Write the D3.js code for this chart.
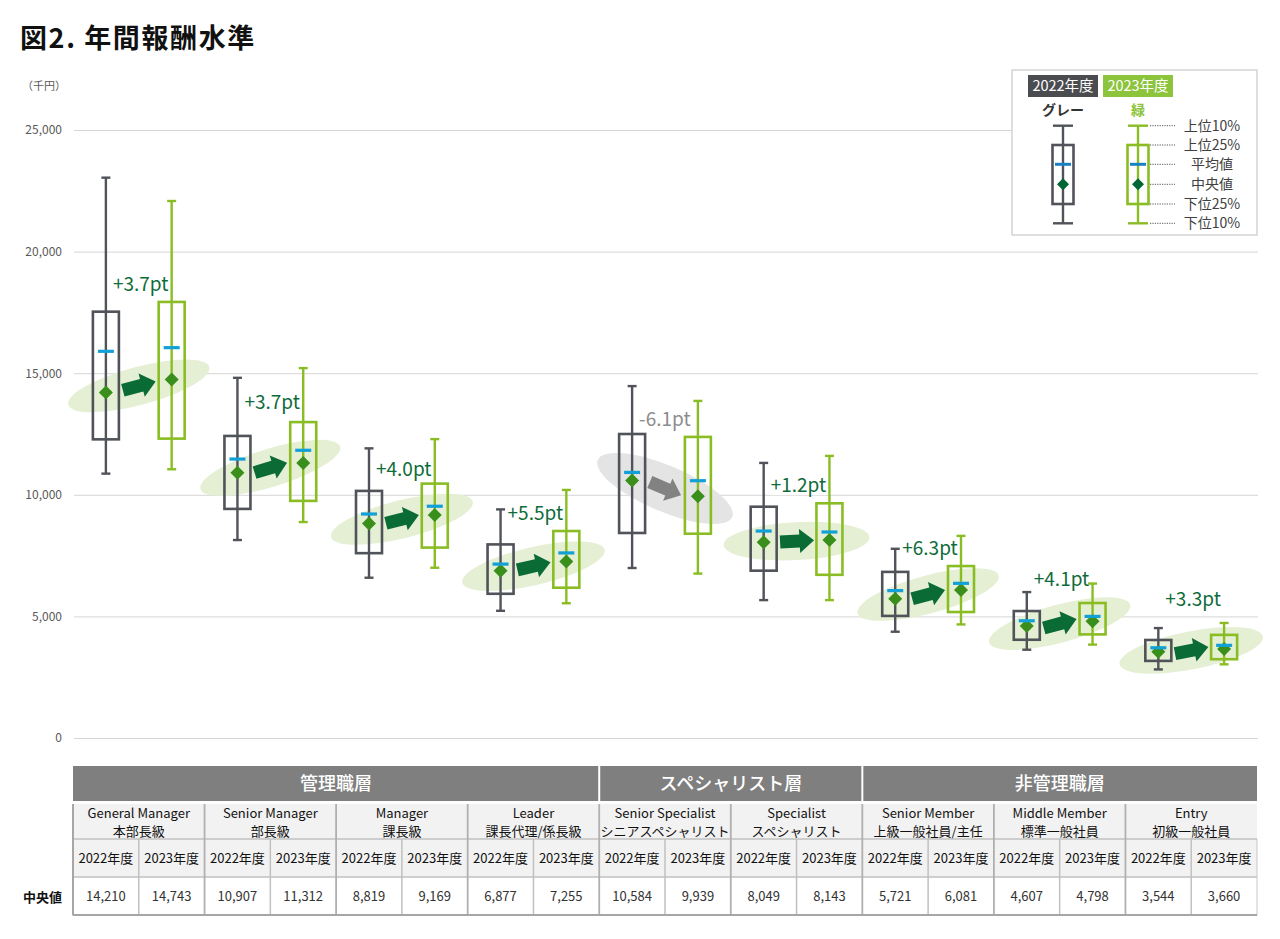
<!DOCTYPE html>
<html><head><meta charset="utf-8">
<script src="https://cdn.jsdelivr.net/npm/d3@7"></script>
<style>
html,body{margin:0;padding:0;background:#fff;}
svg{display:block;font-family:"Noto Sans CJK JP","Noto Sans",sans-serif;}
</style></head>
<body>
<svg id="chart" width="1280" height="939"></svg>
<script>
// ---------- data ----------
const categoriesEn = ["General Manager","Senior Manager","Manager","Leader","Senior Specialist","Specialist","Senior Member","Middle Member","Entry"];
const categoriesJa = ["本部長級","部長級","課長級","課長代理/係長級","シニアスペシャリスト","スペシャリスト","上級一般社員/主任","標準一般社員","初級一般社員"];
const groupNames = ["管理職層","スペシャリスト層","非管理職層"];
const groupSizes = [4,2,3];
const years = ["2022年度","2023年度"];
// 2022
const p10_2022 = [10870, 8140, 6590, 5230, 6990, 5670, 4370, 3630, 2820];
const p25_2022 = [12280, 9420, 7600, 5930, 8430, 6880, 5020, 4040, 3170];
const median_2022 = [14210, 10907, 8819, 6877, 10584, 8049, 5721, 4607, 3544];
const mean_2022 = [15900, 11470, 9210, 7150, 10920, 8510, 6060, 4820, 3710];
const p75_2022 = [17530, 12420, 10160, 7960, 12500, 9510, 6830, 5220, 4030];
const p90_2022 = [23040, 14810, 11910, 9400, 14470, 11310, 7780, 6000, 4520];
// 2023
const p10_2023 = [11050, 8880, 7000, 5540, 6760, 5670, 4670, 3840, 3030];
const p25_2023 = [12310, 9750, 7830, 6180, 8400, 6710, 5180, 4260, 3240];
const median_2023 = [14743, 11312, 9169, 7255, 9939, 8143, 6081, 4798, 3660];
const mean_2023 = [16050, 11830, 9530, 7610, 10580, 8470, 6360, 5000, 3810];
const p75_2023 = [17930, 12990, 10460, 8510, 12380, 9650, 7070, 5550, 4240];
const p90_2023 = [22080, 15210, 12290, 10200, 13860, 11600, 8310, 6350, 4730];
const changeLabels = ["+3.7pt","+3.7pt","+4.0pt","+5.5pt","-6.1pt","+1.2pt","+6.3pt","+4.1pt","+3.3pt"];
const yTicks = [0,5000,10000,15000,20000,25000];
const legendLabels = ["上位10%","上位25%","平均値","中央値","下位25%","下位10%"];

// ---------- decoration layout (not data) ----------
const pairTilt = [-15,-17,-14,-13,23,-3,-15,-15,-11];
const labelDy = [-18,-20,-14,-18,-18,-18,-18,-24,-36];

// ---------- styles ----------
const C = {
  gray:"#505359", green:"#8abd24", mean:"#12a0d7", median:"#3a8f1c",
  arrow:"#0b6b35", arrowGray:"#828282", oval:"#e4efd3", ovalGray:"#e4e4e4",
  label:"#0e6b3a", labelGray:"#8c8c8c", grid:"#d6d6d6", axisText:"#595959"
};

const svg = d3.select("#chart");
const y = d3.scaleLinear().domain([0,25000]).range([738,130]);
const x = d3.scaleBand().domain(d3.range(18)).range([73,1257]);
const bw = x.bandwidth();
const cx = (i,j) => x(i*2+j) + bw/2;

// title
svg.append("text").attr("x",20).attr("y",48).attr("font-size",27).attr("font-weight","bold")
  .attr("letter-spacing",1.6).attr("fill","#111").text("図2. 年間報酬水準");
svg.append("text").attr("x",22).attr("y",90).attr("font-size",11).attr("fill",C.axisText).text("（千円）");

// axis + grid
const yAxis = d3.axisLeft(y).tickValues(yTicks).tickFormat(d3.format(",")).tickSize(-(1258-74)).tickPadding(12);
const ga = svg.append("g").attr("transform","translate(74,0)").call(yAxis);
ga.select(".domain").remove();
ga.selectAll(".tick line").attr("stroke",C.grid).attr("stroke-width",1);
ga.selectAll(".tick text").attr("fill",C.axisText).attr("font-size",12).attr("font-family","'Noto Sans CJK JP',sans-serif");

const years2 = [
  {p10:p10_2022,p25:p25_2022,med:median_2022,mean:mean_2022,p75:p75_2022,p90:p90_2022,color:C.gray},
  {p10:p10_2023,p25:p25_2023,med:median_2023,mean:mean_2023,p75:p75_2023,p90:p90_2023,color:C.green}
];

// ovals
const gOval = svg.append("g");
categoriesEn.forEach((c,i)=>{
  const x1=cx(i,0), y1=y(median_2022[i]), x2=cx(i,1), y2=y(median_2023[i]);
  const neg = median_2023[i] < median_2022[i];
  gOval.append("ellipse").attr("cx",0).attr("cy",0).attr("rx",73).attr("ry",neg?23:19)
    .attr("fill",neg?C.ovalGray:C.oval)
    .attr("transform",`translate(${(x1+x2)/2},${(y1+y2)/2}) rotate(${pairTilt[i]})`);
});

// change labels
const gLab = svg.append("g");
categoriesEn.forEach((c,i)=>{
  const neg = median_2023[i] < median_2022[i];
  const tx = cx(i,0)+7, ty = y(p75_2023[i]) + labelDy[i];
  const t = gLab.append("text").attr("x",tx).attr("y",ty).attr("dy","0.36em")
    .attr("font-size",19).attr("fill",neg?C.labelGray:C.label).text(changeLabels[i]);
  const bb = t.node().getBBox();
  gLab.insert("rect","text").attr("x",bb.x).attr("y",bb.y+2).attr("width",bb.width).attr("height",bb.height-4).attr("fill","#fff");
});
gLab.selectAll("text").raise();

// boxes
const gBox = svg.append("g");
const boxW = 26, capW = 9;
categoriesEn.forEach((c,i)=>{
  years2.forEach((s,j)=>{
    const X = cx(i,j);
    const g = gBox.append("g");
    g.append("line").attr("x1",X).attr("x2",X).attr("y1",y(s.p90[i])).attr("y2",y(s.p10[i]))
      .attr("stroke",s.color).attr("stroke-width",2.4);
    [s.p90[i], s.p10[i]].forEach(v=>{
      g.append("line").attr("x1",X-capW/2).attr("x2",X+capW/2).attr("y1",y(v)).attr("y2",y(v))
        .attr("stroke",s.color).attr("stroke-width",2.4);
    });
    g.append("rect").attr("x",X-boxW/2).attr("y",y(s.p75[i])).attr("width",boxW)
      .attr("height",y(s.p25[i])-y(s.p75[i])).attr("fill","none").attr("stroke",s.color).attr("stroke-width",2.6);
    const my = y(s.med[i]);
    g.append("path").attr("d",`M${X},${my-7}L${X+7},${my}L${X},${my+7}L${X-7},${my}Z`).attr("fill",C.median);
    g.append("rect").attr("x",X-8).attr("y",y(s.mean[i])-1.6).attr("width",16).attr("height",3.2).attr("fill",C.mean);
  });
});

// arrows
const gArr = svg.append("g");
const arrowPath = "M-16.5,-6.5L3,-6.5L3,-12L17.5,0L3,12L3,6.5L-16.5,6.5Z";
categoriesEn.forEach((c,i)=>{
  const x1=cx(i,0), y1=y(median_2022[i]), x2=cx(i,1), y2=y(median_2023[i]);
  const neg = median_2023[i] < median_2022[i];
  gArr.append("path").attr("d",arrowPath).attr("fill",neg?C.arrowGray:C.arrow)
    .attr("transform",`translate(${(x1+x2)/2},${(y1+y2)/2}) rotate(${pairTilt[i]})`);
});

// ---------- legend ----------
const L = svg.append("g");
L.append("rect").attr("x",1012).attr("y",70).attr("width",245).attr("height",165)
  .attr("fill","#fff").attr("stroke","#d4d4d4").attr("stroke-width",1.5);
const legCols = [{x:1063,color:"#4a4c50",name:"グレー",nameColor:"#333",box:C.gray},{x:1138,color:"#8cc43c",name:"緑",nameColor:"#8cc43c",box:C.green}];
const legY = [125.7,145,164.3,184.3,204,223.3];
legCols.forEach((lc,j)=>{
  L.append("rect").attr("x",lc.x-35).attr("y",75).attr("width",70).attr("height",22).attr("fill",lc.color);
  L.append("text").attr("x",lc.x).attr("y",86).attr("dy","0.36em").attr("text-anchor","middle")
    .attr("font-size",14.5).attr("fill","#fff").text(years[j]);
  L.append("text").attr("x",lc.x).attr("y",110).attr("dy","0.36em").attr("text-anchor","middle")
    .attr("font-size",14).attr("font-weight","bold").attr("fill",lc.nameColor).text(lc.name);
  L.append("line").attr("x1",lc.x).attr("x2",lc.x).attr("y1",legY[0]).attr("y2",legY[5]).attr("stroke",lc.box).attr("stroke-width",2.4);
  [legY[0],legY[5]].forEach(v=>L.append("line").attr("x1",lc.x-10).attr("x2",lc.x+10).attr("y1",v).attr("y2",v).attr("stroke",lc.box).attr("stroke-width",2.4));
  L.append("rect").attr("x",lc.x-10.5).attr("y",legY[1]).attr("width",21).attr("height",legY[4]-legY[1])
    .attr("fill","none").attr("stroke",lc.box).attr("stroke-width",2.6);
  L.append("rect").attr("x",lc.x-8).attr("y",legY[2]-1.5).attr("width",16).attr("height",3).attr("fill","#1a80c4");
  L.append("path").attr("d",`M${lc.x},${legY[3]-6}L${lc.x+6},${legY[3]}L${lc.x},${legY[3]+6}L${lc.x-6},${legY[3]}Z`).attr("fill","#006633");
});
legY.forEach((v,k)=>{
  L.append("line").attr("x1",1150).attr("x2",1175).attr("y1",v).attr("y2",v)
    .attr("stroke","#555").attr("stroke-width",1).attr("stroke-dasharray","1.2,1.2");
  L.append("text").attr("x",1212).attr("y",v).attr("dy","0.36em").attr("text-anchor","middle")
    .attr("font-size",14).attr("fill","#404040").text(legendLabels[k]);
});

// ---------- table ----------
const T = svg.append("g");
const xL = 73, xR = 1257;
let start = 0;
groupNames.forEach((gname,k)=>{
  const a = x(start*2), b = x((start+groupSizes[k])*2-1)+bw;
  T.append("rect").attr("x",a+(k>0?1:0)).attr("y",766).attr("width",b-a-(k>0?1:0)-(k<groupNames.length-1?1:0)).attr("height",35).attr("fill","#7f7f7f");
  T.append("text").attr("x",(a+b)/2).attr("y",784).attr("dy","0.36em").attr("text-anchor","middle")
    .attr("font-size",18).attr("font-weight","500").attr("fill","#fff").text(gname);
  start += groupSizes[k];
});
T.append("rect").attr("x",xL).attr("y",804).attr("width",xR-xL).attr("height",73).attr("fill","#f2f2f2");
T.append("rect").attr("x",xL).attr("y",877).attr("width",xR-xL).attr("height",38).attr("fill","#fff");
categoriesEn.forEach((c,i)=>{
  const mx = x(i*2)+bw;
  T.append("text").attr("x",mx).attr("y",813.5).attr("dy","0.36em").attr("text-anchor","middle")
    .attr("font-size",13).attr("fill","#111").text(c);
  T.append("text").attr("x",mx).attr("y",831.5).attr("dy","0.36em").attr("text-anchor","middle")
    .attr("font-size",13).attr("fill","#111").text(categoriesJa[i]);
  years.forEach((yr,j)=>{
    const X = cx(i,j);
    T.append("text").attr("x",X).attr("y",858.5).attr("dy","0.36em").attr("text-anchor","middle")
      .attr("font-size",13).attr("fill","#111").text(yr);
    const v = j===0 ? median_2022[i] : median_2023[i];
    T.append("text").attr("x",X).attr("y",896.5).attr("dy","0.36em").attr("text-anchor","middle")
      .attr("font-size",13).attr("fill","#333").text(d3.format(",")(v));
  });
});
const lc = "#c0c0c0";
T.append("line").attr("x1",xL).attr("x2",xR).attr("y1",839).attr("y2",839).attr("stroke",lc).attr("stroke-width",1.5);
T.append("line").attr("x1",xL).attr("x2",xR).attr("y1",877).attr("y2",877).attr("stroke",lc).attr("stroke-width",1.5);
d3.range(1,18).forEach(c=>{
  const X = x(c);
  const catEdge = c%2===0;
  T.append("line").attr("x1",X).attr("x2",X).attr("y1",catEdge?804:839).attr("y2",915)
    .attr("stroke",catEdge?"#b0b0b0":lc).attr("stroke-width",catEdge?1.8:1.5);
});
T.append("line").attr("x1",xL).attr("x2",xL).attr("y1",804).attr("y2",915.5).attr("stroke","#a6a6a6").attr("stroke-width",2);
T.append("line").attr("x1",xR).attr("x2",xR).attr("y1",839).attr("y2",915.5).attr("stroke","#c8c8c8").attr("stroke-width",1);
T.append("line").attr("x1",xL).attr("x2",xR).attr("y1",915).attr("y2",915).attr("stroke","#a6a6a6").attr("stroke-width",2);
T.append("text").attr("x",62).attr("y",897).attr("dy","0.36em").attr("text-anchor","end")
  .attr("font-size",13).attr("font-weight","bold").attr("fill","#111").text("中央値");
</script>
</body></html>
